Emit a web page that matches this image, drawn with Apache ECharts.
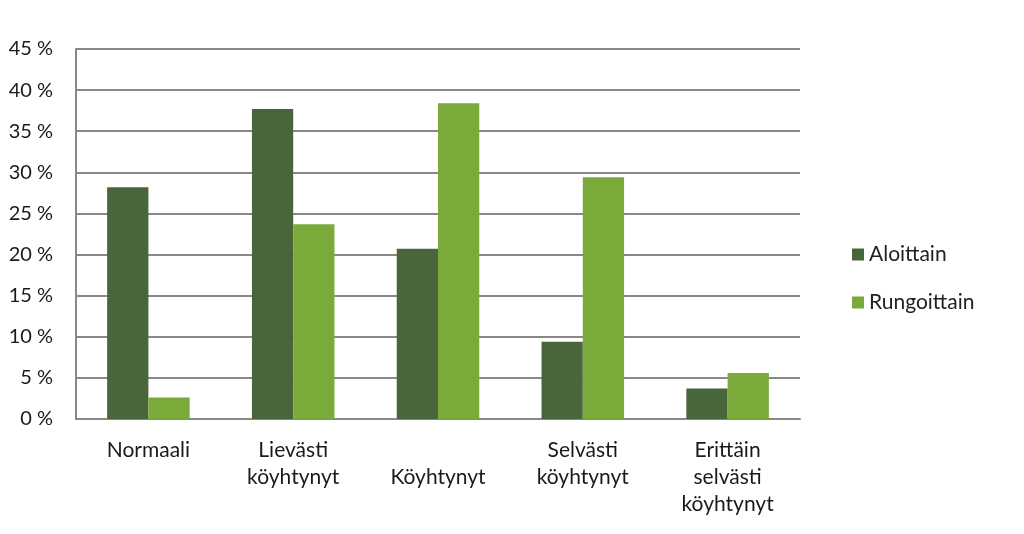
<!DOCTYPE html>
<html>
<head>
<meta charset="utf-8">
<script src="https://cdn.jsdelivr.net/npm/echarts@6/dist/echarts.min.js"></script>
<style>html,body{margin:0;padding:0;background:#fff}#c{width:1024px;height:534px}</style>
</head>
<body>
<div id="c"></div>
<script>
const categories = ['Normaali', 'Lievästi\nköyhtynyt', 'Köyhtynyt', 'Selvästi\nköyhtynyt', 'Erittäin\nselvästi\nköyhtynyt'];
const aloittain = [28.2, 37.7, 20.7, 9.4, 3.7];
const rungoittain = [2.6, 23.7, 38.4, 29.4, 5.6];
const yTicks = {min: 0, max: 45, interval: 5};

const FONT = 'Lato';
const chart = echarts.init(document.getElementById('c'), null, {renderer: 'canvas'});
chart.setOption({
  animation: false,
  backgroundColor: '#fff',
  textStyle: {fontFamily: FONT},
  grid: {left: 76, right: 224, top: 49, bottom: 115, containLabel: false},
  legend: {
    orient: 'vertical', left: 847, top: 239,
    itemWidth: 12, itemHeight: 12, itemGap: 27,
    icon: 'rect',
    textStyle: {fontFamily: FONT, fontSize: 21, color: '#222'},
    data: ['Aloittain', 'Rungoittain']
  },
  xAxis: {
    type: 'category', data: categories,
    axisLine: {show: true, lineStyle: {color: '#888', width: 2}},
    axisTick: {show: false},
    axisLabel: {
      interval: 0, margin: 18, color: '#1a1a1a', fontSize: 21, fontFamily: FONT, lineHeight: 27,
      formatter: v => v === 'Köyhtynyt' ? '\n' + v : v
    }
  },
  yAxis: {
    type: 'value', min: yTicks.min, max: yTicks.max, interval: yTicks.interval,
    axisLine: {show: true, lineStyle: {color: '#888', width: 2}},
    axisTick: {show: false},
    splitLine: {lineStyle: {color: '#888', width: 2}},
    axisLabel: {margin: 23, color: '#1a1a1a', fontSize: 20, fontFamily: FONT, formatter: '{value} %'}
  },
  series: [
    {name: 'Aloittain', type: 'bar', data: aloittain, barGap: '0%', barCategoryGap: '43%',
     itemStyle: {color: '#48663a'}},
    {name: 'Rungoittain', type: 'bar', data: rungoittain, barGap: '0%', barCategoryGap: '43%',
     itemStyle: {color: '#7aab3a'}}
  ]
});
</script>
</body>
</html>
